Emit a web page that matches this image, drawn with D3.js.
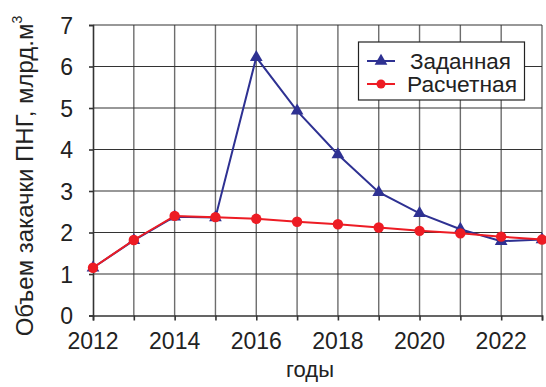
<!DOCTYPE html>
<html>
<head>
<meta charset="utf-8">
<script src="https://cdn.jsdelivr.net/npm/d3@7"></script>
<style>
  html, body { margin: 0; padding: 0; background: #fff; }
  svg { display: block; font-family: "Liberation Sans", Arial, sans-serif; }
</style>
</head>
<body>
<svg id="chart" width="546" height="387"></svg>
<script>
// Годы и объёмы закачки ПНГ, млрд.м³
const years = [2012, 2013, 2014, 2015, 2016, 2017, 2018, 2019, 2020, 2021, 2022, 2023];
const zadannaya = [1.15, 1.81, 2.38, 2.36, 6.22, 4.93, 3.88, 2.97, 2.46, 2.08, 1.79, 1.83];
const raschetnaya = [1.15, 1.82, 2.40, 2.37, 2.33, 2.26, 2.20, 2.12, 2.04, 1.98, 1.90, 1.83];
const yTicks = [0, 1, 2, 3, 4, 5, 6, 7];
const xLabelYears = [2012, 2014, 2016, 2018, 2020, 2022];
const seriesNames = ["Заданная", "Расчетная"];

const W = 546, H = 387;
const margin = { top: 25, right: 4, bottom: 71.5, left: 93 };
const svg = d3.select("#chart");

const x = d3.scaleLinear().domain([2012, 2023]).range([margin.left, W - margin.right]);
const y = d3.scaleLinear().domain([0, 7]).range([H - margin.bottom, margin.top]);

const blue = "#2e3192", red = "#ed1c24";
const gridColor = "#6d6d6d", axisColor = "#333";

// grid
svg.append("g").selectAll("line").data(years.slice(1)).join("line")
  .attr("x1", d => x(d)).attr("x2", d => x(d))
  .attr("y1", y(0)).attr("y2", y(7))
  .attr("stroke", gridColor).attr("stroke-width", 1.4);
svg.append("g").selectAll("line").data(yTicks.slice(1)).join("line")
  .attr("x1", x(2012)).attr("x2", x(2023))
  .attr("y1", d => y(d)).attr("y2", d => y(d))
  .attr("stroke", axisColor).attr("stroke-width", 1.2);

// axes
const xAxis = d3.axisBottom(x).tickValues(years).tickSize(5).tickFormat("");
svg.append("g").attr("transform", `translate(0,${y(0)})`).call(xAxis)
  .call(g => g.selectAll("line, path").attr("stroke", axisColor).attr("stroke-width", 1.6));

const yAxis = d3.axisLeft(y).tickValues(yTicks).tickSize(4).tickFormat(d3.format("d"));
svg.append("g").attr("transform", `translate(${x(2012)},0)`).call(yAxis)
  .call(g => g.selectAll("line, path").attr("stroke", axisColor).attr("stroke-width", 1.6))
  .call(g => g.selectAll("text").attr("x", -20).attr("dy", "0.36em")
    .attr("font-size", 23).attr("fill", "#222").attr("font-family", "Liberation Sans, Arial, sans-serif"));

// x labels (every second year)
svg.append("g").selectAll("text").data(xLabelYears).join("text")
  .attr("x", d => x(d)).attr("y", y(0) + 33)
  .attr("text-anchor", "middle").attr("font-size", 23).attr("fill", "#222")
  .text(d => d);

// axis titles
svg.append("text").attr("x", 310).attr("y", 377)
  .attr("text-anchor", "middle").attr("font-size", 22).attr("fill", "#222").text("годы");

const yt = svg.append("text")
  .attr("transform", "translate(33,176) rotate(-90)")
  .attr("text-anchor", "middle").attr("font-size", 24).attr("fill", "#222");
yt.append("tspan").text("Объем закачки ПНГ, млрд.м");
yt.append("tspan").attr("font-size", 14).attr("dy", -11).text("3");

// lines
const line = vals => d3.line().x((d, i) => x(years[i])).y(d => y(d))(vals);
svg.append("path").attr("d", line(zadannaya)).attr("fill", "none")
  .attr("stroke", blue).attr("stroke-width", 2);
const tri = d3.symbol().type(d3.symbolTriangle).size(70);
svg.append("g").selectAll("path").data(zadannaya).join("path")
  .attr("d", tri).attr("transform", (d, i) => `translate(${x(years[i])},${y(d)})`)
  .attr("fill", blue);

svg.append("path").attr("d", line(raschetnaya)).attr("fill", "none")
  .attr("stroke", red).attr("stroke-width", 2);
svg.append("g").selectAll("circle").data(raschetnaya).join("circle")
  .attr("cx", (d, i) => x(years[i])).attr("cy", d => y(d)).attr("r", 5.2)
  .attr("fill", red);

// legend
const lg = svg.append("g");
lg.append("rect").attr("x", 358.5).attr("y", 42).attr("width", 166).attr("height", 58)
  .attr("fill", "#fff").attr("stroke", "#222").attr("stroke-width", 1.2);
const rows = [
  { name: seriesNames[0], color: blue, cy: 61, tx: 410, len: 101 },
  { name: seriesNames[1], color: red, cy: 84, tx: 407, len: 110 }
];
rows.forEach((r, i) => {
  lg.append("line").attr("x1", 367).attr("x2", 395).attr("y1", r.cy).attr("y2", r.cy)
    .attr("stroke", r.color).attr("stroke-width", 2);
  if (i === 0) {
    lg.append("path").attr("d", tri).attr("transform", `translate(381,${r.cy})`).attr("fill", r.color);
  } else {
    lg.append("circle").attr("cx", 381).attr("cy", r.cy).attr("r", 4.5).attr("fill", r.color);
  }
  lg.append("text").attr("x", r.tx).attr("y", r.cy + 8).attr("font-size", 22)
    .attr("textLength", r.len).attr("lengthAdjust", "spacingAndGlyphs")
    .attr("fill", "#222").text(r.name);
});
</script>
</body>
</html>
